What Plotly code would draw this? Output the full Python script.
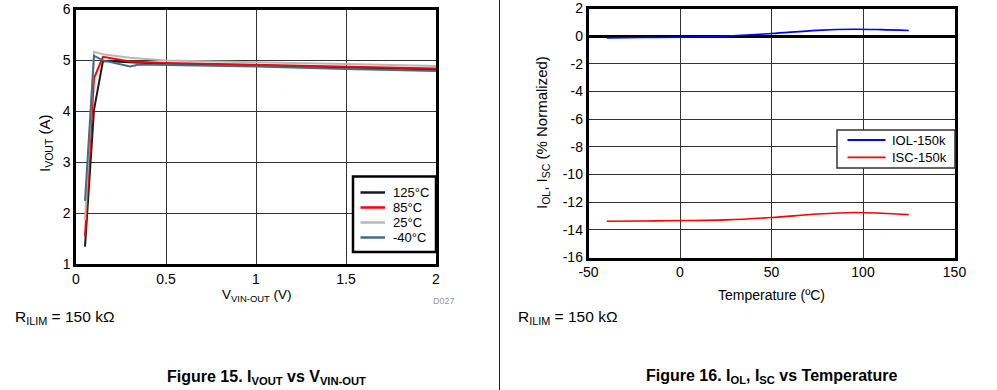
import plotly.graph_objects as go

# ---- Figure 15 data: IVOUT vs VVIN-OUT ----
v_125 = [0.05, 0.10, 0.15, 0.30, 0.50, 1.0, 1.5, 2.0]
i_125 = [1.34, 4.03, 4.99, 4.97, 4.93, 4.90, 4.86, 4.82]
v_85 = [0.05, 0.10, 0.15, 0.30, 0.50, 1.0, 1.5, 2.0]
i_85 = [1.54, 4.65, 5.07, 4.98, 4.95, 4.91, 4.87, 4.84]
v_25 = [0.05, 0.10, 0.15, 0.30, 0.50, 1.0, 1.5, 2.0]
i_25 = [1.86, 5.17, 5.12, 5.05, 5.00, 4.97, 4.93, 4.89]
v_m40 = [0.05, 0.10, 0.15, 0.30, 0.35, 0.50, 1.0, 1.5, 2.0]
i_m40 = [2.24, 5.09, 5.00, 4.88, 4.92, 4.91, 4.88, 4.83, 4.79]

# ---- Figure 16 data: IOL, ISC vs Temperature ----
temp = [-40, -20, 0, 25, 50, 75, 95, 110, 125]
iol = [-0.12, -0.10, -0.07, 0.0, 0.19, 0.42, 0.50, 0.47, 0.41]
isc = [-13.38, -13.36, -13.33, -13.28, -13.11, -12.86, -12.75, -12.80, -12.90]

left_xticks = [0, 0.5, 1, 1.5, 2]
left_xtext = ["0", "0.5", "1", "1.5", "2"]
left_yticks = [1, 2, 3, 4, 5, 6]
right_xticks = [-50, 0, 50, 100, 150]
right_xtext = ["-50", "0", "50", "100", "150"]
right_yticks = list(range(-16, 3, 2))
right_ytext = [str(v) for v in right_yticks]

left_names = ["125°C", "85°C", "25°C", "-40°C"]
left_colors = ["#1a1a1a", "#ff0000", "#b8b8b8", "#3f6f86"]
right_names = ["IOL-150k", "ISC-150k"]
right_colors = ["#0000ff", "#ff0000"]

FONT = "Liberation Sans, Arial, sans-serif"
W, H = 997, 390

fig = go.Figure()

lw = 2
left_series = [(v_125, i_125), (v_85, i_85), (v_25, i_25), (v_m40, i_m40)]
for (xs, ys), name, col in zip(left_series, left_names, left_colors):
    fig.add_trace(go.Scatter(x=xs, y=ys, mode="lines", name=name,
                             line=dict(color=col, width=lw), xaxis="x", yaxis="y"))

for ys, name, col in zip([iol, isc], right_names, right_colors):
    fig.add_trace(go.Scatter(x=temp, y=ys, mode="lines", name=name, line_shape="spline",
                             line=dict(color=col, width=1.6), xaxis="x2", yaxis="y2"))

def px_x(p):
    return p / W

def px_y(p):
    return 1 - p / H

axis_common = dict(showline=True, mirror=True, linecolor="black", linewidth=2.5,
                   showgrid=True, gridcolor="#333333", gridwidth=1.3, ticks="",
                   automargin=False,
                   tickfont=dict(family=FONT, size=14, color="black"))

fig.update_layout(
    width=W, height=H,
    margin=dict(l=0, r=0, t=0, b=0, pad=0, autoexpand=False),
    paper_bgcolor="white", plot_bgcolor="white",
    font=dict(family=FONT, color="black"),
    showlegend=False,
    xaxis=dict(domain=[px_x(76), px_x(436)], range=[0, 2], tickvals=left_xticks, ticktext=left_xtext,
               zeroline=False, anchor="y", **axis_common),
    yaxis=dict(domain=[px_y(264), px_y(9.5)], range=[1, 6], tickvals=left_yticks,
               zeroline=False, anchor="x", **axis_common),
    xaxis2=dict(domain=[px_x(588.5), px_x(954.5)], range=[-50, 150], tickvals=right_xticks, ticktext=right_xtext,
                zeroline=False, anchor="y2", **axis_common),
    yaxis2=dict(domain=[px_y(257.5), px_y(8.5)], range=[-16, 2], tickvals=right_yticks, ticktext=right_ytext,
                zeroline=True, zerolinecolor="black", zerolinewidth=2.5, anchor="x2", **axis_common),
)

shapes = []
annotations = []

# Legend for Figure 15
shapes.append(dict(type="rect", xref="paper", yref="paper",
                   x0=px_x(353), x1=px_x(436), y0=px_y(252), y1=px_y(176.5),
                   fillcolor="white", line=dict(color="black", width=2.5), layer="above"))
for k, (name, col) in enumerate(zip(left_names, left_colors)):
    yy = 192.5 + k * 15.0
    shapes.append(dict(type="line", xref="paper", yref="paper",
                       x0=px_x(360.5), x1=px_x(385), y0=px_y(yy), y1=px_y(yy),
                       line=dict(color=col, width=2.5), layer="above"))
    annotations.append(dict(text=name, x=px_x(391), y=px_y(yy), xanchor="left", font=dict(size=13)))

# Legend for Figure 16
shapes.append(dict(type="rect", xref="paper", yref="paper",
                   x0=px_x(837), x1=px_x(955), y0=px_y(168), y1=px_y(130),
                   fillcolor="white", line=dict(color="#333333", width=1.5), layer="above"))
for k, (name, col) in enumerate(zip(right_names, right_colors)):
    yy = 140 + k * 17.3
    shapes.append(dict(type="line", xref="paper", yref="paper",
                       x0=px_x(847.5), x1=px_x(885.5), y0=px_y(yy), y1=px_y(yy),
                       line=dict(color=col, width=1.8), layer="above"))
    annotations.append(dict(text=name, x=px_x(889.5), y=px_y(yy), xanchor="left", font=dict(size=13)))

# Divider between the two figures
shapes.append(dict(type="line", xref="paper", yref="paper", x0=px_x(499.5), x1=px_x(499.5), y0=0, y1=1,
                   line=dict(color="#222", width=1)))

annotations += [
    dict(text="I<sub>VOUT</sub> (A)", x=px_x(45), y=px_y(143), textangle=-90, font=dict(size=15)),
    dict(text="V<sub>VIN-OUT</sub> (V)", x=px_x(256.5), y=px_y(295), font=dict(size=13.5)),
    dict(text="D027", x=px_x(444), y=px_y(300.5), font=dict(size=9, color="#999999")),
    dict(text="R<sub>ILIM</sub> = 150 kΩ", x=px_x(12.5), y=px_y(317), xanchor="left", font=dict(size=15.5)),
    dict(text="<b>Figure 15. I<sub>VOUT</sub> vs V<sub>VIN-OUT</sub></b>", x=px_x(266), y=px_y(377), font=dict(size=16)),
    dict(text="I<sub>OL</sub>, I<sub>SC</sub> (% Normalized)", x=px_x(542), y=px_y(133), textangle=-90, font=dict(size=15)),
    dict(text="Temperature (ºC)", x=px_x(771.5), y=px_y(295), font=dict(size=14)),
    dict(text="R<sub>ILIM</sub> = 150 kΩ", x=px_x(516), y=px_y(317), xanchor="left", font=dict(size=15.5)),
    dict(text="<b>Figure 16. I<sub>OL</sub>, I<sub>SC</sub> vs Temperature</b>", x=px_x(771.5), y=px_y(376), font=dict(size=16)),
]
for a in annotations:
    a.setdefault("xanchor", "center")
    a.update(xref="paper", yref="paper", showarrow=False, yanchor="middle")
    a["font"] = dict(family=FONT, color=a["font"].get("color", "black"), size=a["font"]["size"])

fig.update_layout(shapes=shapes, annotations=annotations)

fig.write_html("out.html", config={"displayModeBar": False},
               post_script="document.body.style.margin='0';document.body.style.overflow='hidden';")
